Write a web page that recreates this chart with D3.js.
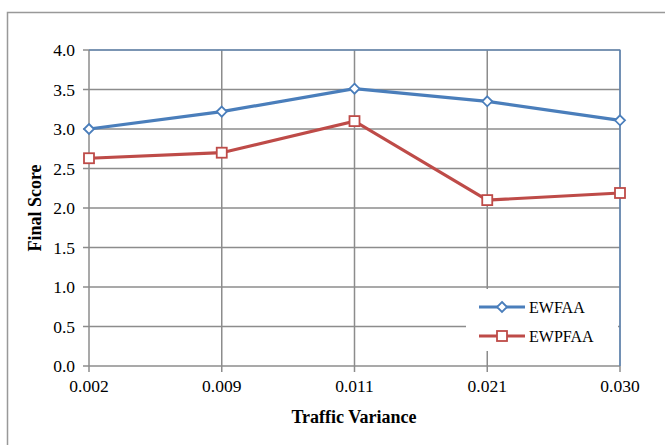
<!DOCTYPE html>
<html><head><meta charset="utf-8">
<script src="https://cdn.jsdelivr.net/npm/d3@7"></script>
<style>body{margin:0;background:#fff}</style>
</head><body>
<svg id="c" width="665" height="445"></svg>
<script>
const categories = ["0.002","0.009","0.011","0.021","0.030"];
const ewfaa = [3.00, 3.22, 3.51, 3.35, 3.11];
const ewpfaa = [2.63, 2.70, 3.10, 2.10, 2.19];
const yTicks = [0,0.5,1,1.5,2,2.5,3,3.5,4];
const seriesNames = ["EWFAA","EWPFAA"];

const svg = d3.select("#c");
const L=89, R=620, T=50, B=366;
const font = "'Liberation Serif','Times New Roman',serif";
svg.append("rect").attr("x",7.5).attr("y",12.5).attr("width",700).attr("height",500)
  .attr("fill","#fff").attr("stroke","#999").attr("stroke-width",1.5);

const x = d3.scalePoint().domain(categories).range([L,R]);
const y = d3.scaleLinear().domain([0,4]).range([B,T]);
const grid="#8c8c8c";
svg.append("g").selectAll("line").data(yTicks).join("line")
  .attr("x1",L-6).attr("x2",R).attr("y1",d=>y(d)).attr("y2",d=>y(d))
  .attr("stroke",grid).attr("stroke-width",1.5);
svg.append("g").selectAll("line").data(categories).join("line")
  .attr("x1",d=>x(d)).attr("x2",d=>x(d)).attr("y1",T).attr("y2",B+6)
  .attr("stroke",grid).attr("stroke-width",1.5);
svg.append("path").attr("d",`M${L},${T}H${R}V${B}`).attr("fill","none")
  .attr("stroke","#4f81bd").attr("stroke-width",1.2);
svg.append("g").selectAll("text").data(yTicks).join("text")
  .attr("x",75).attr("y",d=>y(d)+6).attr("text-anchor","end")
  .attr("font-family",font).attr("font-size",17.5).text(d=>d.toFixed(1));
svg.append("g").selectAll("text").data(categories).join("text")
  .attr("x",d=>x(d)).attr("y",392).attr("text-anchor","middle")
  .attr("font-family",font).attr("font-size",17.5).text(d=>d);
svg.append("text").attr("x",354).attr("y",423).attr("text-anchor","middle")
  .attr("font-family",font).attr("font-size",18).attr("font-weight","bold").text("Traffic Variance");
svg.append("text").attr("transform","translate(41,208) rotate(-90)").attr("text-anchor","middle")
  .attr("font-family",font).attr("font-size",18).attr("font-weight","bold").text("Final Score");

const colors=["#4a7ebb","#be4b48"];
const data=[ewfaa,ewpfaa];
const line=d3.line().x((d,i)=>x(categories[i])).y(d=>y(d));
function marker(g,i,cx,cy){
  if(i===0){
    g.append("path").attr("d",`M${cx},${cy-5}L${cx+5},${cy}L${cx},${cy+5}L${cx-5},${cy}Z`)
     .attr("fill","#fff").attr("stroke",colors[0]).attr("stroke-width",1.8);
  } else {
    g.append("rect").attr("x",cx-5).attr("y",cy-5).attr("width",10).attr("height",10)
     .attr("fill","#fff").attr("stroke",colors[1]).attr("stroke-width",1.8);
  }
}
data.forEach((s,i)=>{
  svg.append("path").datum(s).attr("d",line).attr("fill","none")
    .attr("stroke",colors[i]).attr("stroke-width",3.2);
  const g=svg.append("g");
  s.forEach((v,j)=>marker(g,i,x(categories[j]),y(v)));
});
svg.append("rect").attr("x",466).attr("y",289).attr("width",152).attr("height",62).attr("fill","#fff");
seriesNames.forEach((n,i)=>{
  const ly=307+i*29;
  svg.append("line").attr("x1",479).attr("x2",525).attr("y1",ly).attr("y2",ly)
    .attr("stroke",colors[i]).attr("stroke-width",3.2);
  marker(svg,i,502,ly);
  svg.append("text").attr("x",529).attr("y",ly+6).attr("font-family",font)
    .attr("font-size",16).text(n);
});
</script>
</body></html>
